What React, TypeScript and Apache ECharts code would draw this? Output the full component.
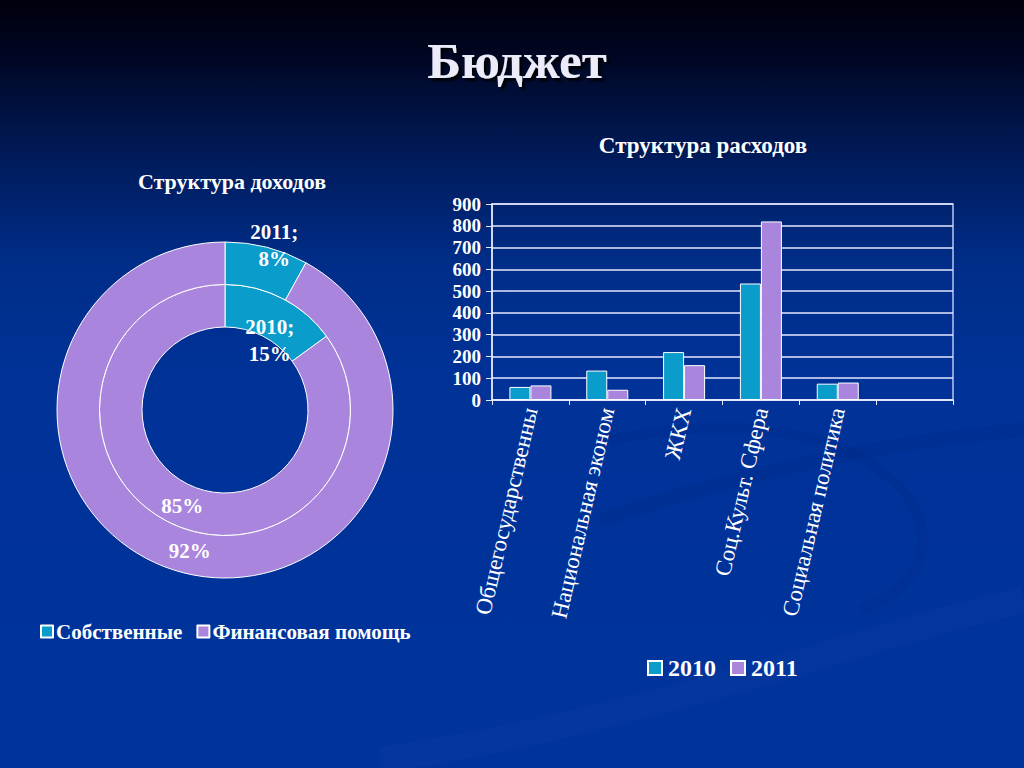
import React, { useEffect, useRef } from "react";
import * as echarts from "echarts";

const incomeNames = ["Собственные", "Финансовая помощь"];
const income2010 = [15, 85];
const income2011 = [8, 92];

const expenseCategories = [
  "Общегосударственны",
  "Национальная эконом",
  "ЖКХ",
  "Соц.Культ. Сфера",
  "Социальная политика",
  "",
];
const expense2010 = [60, 135, 220, 535, 75, null];
const expense2011 = [67, 47, 160, 820, 80, null];
const yTicks = { min: 0, max: 900, interval: 100 };

const TEAL = "#0a9ccb";
const LAV = "#a985dd";
const SERIF = "'Liberation Serif', 'Times New Roman', serif";

export default function App() {
  const ref = useRef<HTMLDivElement>(null);

  useEffect(() => {
    if (!ref.current) return;
    const chart = echarts.init(ref.current, null, { renderer: "svg" });

    const labelOffsets: Record<string, [number, number]> = {
      "0-0": [-4, 26],
      "0-1": [6, 0],
      "1-0": [12, -19],
      "1-1": [2, -4],
    };

    const pieLabel = (year: string) => ({
      show: true,
      position: "inside",
      color: "#ffffff",
      fontFamily: SERIF,
      fontWeight: "bold",
      fontSize: 21,
      lineHeight: 27,
      formatter: (p: any) =>
        p.dataIndex === 0 ? `${year};\n${p.value}%` : `${p.value}%`,
    });

    const option: any = {
      animation: false,
      backgroundColor: {
        type: "linear",
        x: 0,
        y: 0,
        x2: 0,
        y2: 1,
        colorStops: [
          { offset: 0, color: "#00000c" },
          { offset: 0.07, color: "#000622" },
          { offset: 0.2, color: "#001a58" },
          { offset: 0.34, color: "#002d88" },
          { offset: 0.5, color: "#003298" },
          { offset: 1, color: "#00349c" },
        ],
      },
      graphic: [
        {
          type: "bezierCurve",
          silent: true,
          z: -10,
          shape: { x1: 380, y1: 760, x2: 1024, y2: 600, cpx1: 650, cpy1: 720, cpx2: 850, cpy2: 640 },
          style: { stroke: "rgba(40,80,180,0.1)", lineWidth: 26, fill: null },
        },
        {
          type: "bezierCurve",
          silent: true,
          z: -10,
          shape: { x1: 600, y1: 520, x2: 1024, y2: 430, cpx1: 750, cpy1: 470, cpx2: 900, cpy2: 440 },
          style: { stroke: "rgba(0,20,90,0.07)", lineWidth: 14, fill: null },
        },
        {
          type: "bezierCurve",
          silent: true,
          z: -10,
          shape: { x1: 610, y1: 440, x2: 860, y2: 610, cpx1: 900, cpy1: 380, cpx2: 1000, cpy2: 560 },
          style: { stroke: "rgba(0,20,90,0.07)", lineWidth: 10, fill: null },
        },
      ],
      title: [
        {
          text: "Бюджет",
          left: 512,
          top: 30,
          textAlign: "center",
          textStyle: {
            color: "#ecebfa",
            fontFamily: SERIF,
            fontWeight: "bold",
            fontSize: 51,
            textShadowColor: "rgba(0,0,0,0.9)",
            textShadowOffsetX: 3,
            textShadowOffsetY: 3,
            textShadowBlur: 2,
          },
        },
        {
          text: "Структура доходов",
          left: 227,
          top: 165,
          textAlign: "center",
          textStyle: { color: "#ffffff", fontFamily: SERIF, fontWeight: "bold", fontSize: 22 },
        },
        {
          text: "Структура расходов",
          left: 698,
          top: 129,
          textAlign: "center",
          textStyle: { color: "#ffffff", fontFamily: SERIF, fontWeight: "bold", fontSize: 23 },
        },
      ],
      legend: [
        {
          data: incomeNames,
          left: 35,
          top: 616,
          icon: "rect",
          itemWidth: 12,
          itemHeight: 12,
          itemGap: 14,
          textStyle: { color: "#ffffff", fontFamily: SERIF, fontWeight: "bold", fontSize: 21, padding: [0, 0, 0, -2] },
        },
        {
          data: ["2010", "2011"],
          left: 642,
          top: 651,
          icon: "rect",
          itemWidth: 14,
          itemHeight: 14,
          itemGap: 14,
          textStyle: { color: "#ffffff", fontFamily: SERIF, fontWeight: "bold", fontSize: 24, padding: [0, 0, 0, 1] },
        },
      ],
      grid: {
        left: 492,
        right: 71,
        top: 204,
        bottom: 368,
        show: true,
        borderColor: "#b8c4f0",
        borderWidth: 1.5,
        backgroundColor: "transparent",
      },
      xAxis: {
        type: "category",
        data: expenseCategories,
        axisLine: { lineStyle: { color: "#e8ecff", width: 1.5 } },
        axisTick: { show: true, length: 5, lineStyle: { color: "#e8ecff" } },
        axisLabel: {
          color: "#ffffff",
          fontFamily: SERIF,
          fontSize: 23,
          rotate: 77,
          margin: 8,
          interval: 0,
        },
      },
      yAxis: {
        type: "value",
        min: yTicks.min,
        max: yTicks.max,
        interval: yTicks.interval,
        axisLine: { show: true, lineStyle: { color: "#e8ecff", width: 1.5 } },
        axisTick: { show: true, length: 6, inside: false, lineStyle: { color: "#e8ecff" } },
        axisLabel: {
          color: "#ffffff",
          fontFamily: SERIF,
          fontWeight: "bold",
          fontSize: 19,
          margin: 11,
        },
        splitLine: { lineStyle: { color: "#e4e8ff", width: 1.5 } },
      },
      series: [
        {
          name: "2010",
          type: "bar",
          data: expense2010,
          barWidth: 21,
          barGap: "0%",
          itemStyle: { color: TEAL, borderColor: "#ffffff", borderWidth: 1 },
        },
        {
          name: "2011",
          type: "bar",
          data: expense2011,
          barWidth: 21,
          barGap: "0%",
          itemStyle: { color: LAV, borderColor: "#ffffff", borderWidth: 1 },
        },
        {
          name: "2010 доходы",
          type: "pie",
          center: [225, 410],
          radius: [83, 125.5],
          startAngle: 90,
          clockwise: true,
          color: [TEAL, LAV],
          itemStyle: { borderColor: "#ffffff", borderWidth: 1 },
          label: pieLabel("2010"),
          labelLine: { show: false },
          emphasis: { disabled: true },
          labelLayout: (p: any) => {
            const o = labelOffsets[`0-${p.dataIndex}`] || [0, 0];
            return { dx: o[0], dy: o[1] };
          },
          data: incomeNames.map((n, i) => ({ name: n, value: income2010[i] })),
        },
        {
          name: "2011 доходы",
          type: "pie",
          center: [225, 410],
          radius: [125.5, 168],
          startAngle: 90,
          clockwise: true,
          color: [TEAL, LAV],
          itemStyle: { borderColor: "#ffffff", borderWidth: 1 },
          label: pieLabel("2011"),
          labelLine: { show: false },
          emphasis: { disabled: true },
          labelLayout: (p: any) => {
            const o = labelOffsets[`1-${p.dataIndex}`] || [0, 0];
            return { dx: o[0], dy: o[1] };
          },
          data: incomeNames.map((n, i) => ({ name: n, value: income2011[i] })),
        },
      ],
    };

    chart.setOption(option);
    return () => chart.dispose();
  }, []);

  return (
    <div
      ref={ref}
      style={{ position: "fixed", left: 0, top: 0, width: 1024, height: 768 }}
    />
  );
}
